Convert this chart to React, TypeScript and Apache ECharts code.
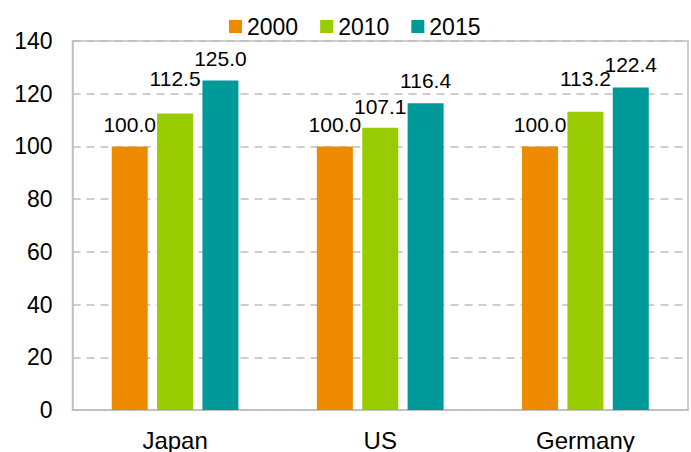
import React, { useEffect, useRef } from "react";
import * as echarts from "echarts";

const categories = ["Japan", "US", "Germany"];
const seriesNames = ["2000", "2010", "2015"];
const values2000 = [100.0, 100.0, 100.0];
const values2010 = [112.5, 107.1, 113.2];
const values2015 = [125.0, 116.4, 122.4];
const yTicks = [0, 20, 40, 60, 80, 100, 120, 140];

const colors = ["#EE8A00", "#99CC00", "#009999"];
// label distances (px) above each bar
const labelDistances = [
  [11, 11, 11],
  [24, 11, 23],
  [12, 12, 12],
];

export default function App() {
  const ref = useRef<HTMLDivElement>(null);
  useEffect(() => {
    if (!ref.current) return;
    const chart = echarts.init(ref.current, null, { renderer: "svg" });
    const all = [values2000, values2010, values2015];
    const font = "Liberation Sans, Arial, sans-serif";
    chart.setOption({
      animation: false,
      backgroundColor: "#ffffff",
      textStyle: { fontFamily: font, color: "#000" },
      legend: {
        data: seriesNames,
        left: 224,
        top: 10,
        itemWidth: 13,
        itemHeight: 13,
        itemGap: 22,
        icon: "rect",
        textStyle: { fontSize: 23, color: "#000", fontFamily: font },
      },
      grid: {
        left: 72.5,
        right: 3,
        top: 41,
        bottom: 40,
        show: true,
        borderColor: "#BFBFBF",
        borderWidth: 1.5,
        containLabel: false,
      },
      xAxis: {
        type: "category",
        data: categories,
        axisLine: { show: true, lineStyle: { color: "#BFBFBF", width: 1.5 } },
        axisTick: { show: false },
        axisLabel: { fontSize: 24, color: "#000", margin: 18, fontFamily: font },
      },
      yAxis: {
        type: "value",
        min: yTicks[0],
        max: yTicks[yTicks.length - 1],
        interval: 20,
        axisLine: { show: true, lineStyle: { color: "#BFBFBF", width: 1.5 } },
        axisTick: { show: false },
        axisLabel: { fontSize: 23, color: "#000", margin: 20, fontFamily: font },
        splitLine: {
          show: true,
          lineStyle: { color: "#BFBFBF", width: 1.5, type: [8, 6] },
        },
      },
      series: seriesNames.map((name, si) => ({
        name,
        type: "bar",
        barWidth: 36,
        barGap: "26%",
        itemStyle: { color: colors[si] },
        data: all[si].map((v, ci) => ({
          value: v,
          label: { distance: labelDistances[si][ci] },
        })),
        label: {
          show: true,
          position: "top",
          fontSize: 21,
          color: "#000",
          fontFamily: font,
          formatter: (p: any) => Number(p.value).toFixed(1),
        },
      })),
    });
    return () => chart.dispose();
  }, []);
  return (
    <div
      ref={ref}
      style={{ position: "fixed", left: 0, top: 0, width: 691, height: 452 }}
    />
  );
}
